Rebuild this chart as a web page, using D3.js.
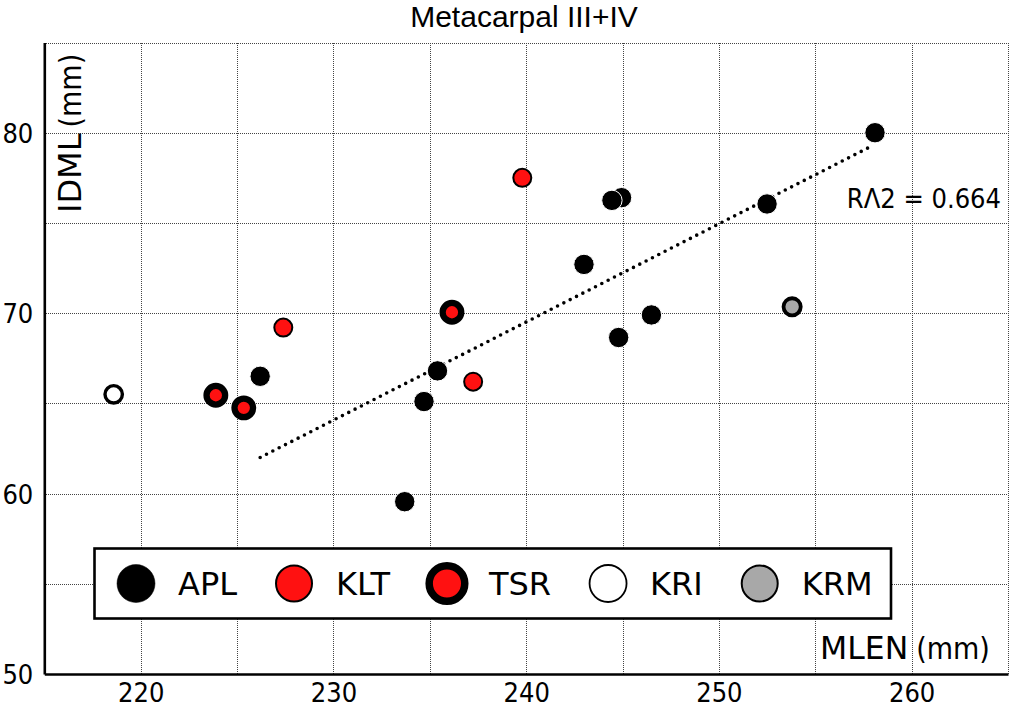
<!DOCTYPE html>
<html>
<head>
<meta charset="utf-8">
<script src="https://cdn.jsdelivr.net/npm/d3@7"></script>
<style>
  html, body { margin: 0; padding: 0; background: #fff; }
  svg { display: block; }
  .cond { font-family: "DejaVu Sans Condensed", "DejaVu Sans", sans-serif; font-stretch: condensed; }
  .dv { font-family: "DejaVu Sans", sans-serif; }
</style>
</head>
<body>
<svg id="chart" width="1012" height="713"></svg>
<script>
// ---------------- data ----------------
const title = "Metacarpal III+IV";
const xLabel = "MLEN";
const yLabel = "IDML";
const unitLabel = "(mm)";
const r2Label = "RΛ2 = 0.664";
const xTicks = [220, 230, 240, 250, 260];
const yTicks = [50, 60, 70, 80];
const xGrid = [220, 225, 230, 235, 240, 245, 250, 255, 260, 265];
const yGrid = [55, 60, 65, 70, 75, 80, 85];
const groups = ["APL", "KLT", "TSR", "KRI", "KRM"];

const aplMLEN = [258.1, 252.5, 244.95, 244.45, 243.0, 246.5, 244.8, 235.4, 234.7, 226.2, 233.7];
const aplIDML = [80.0, 76.05, 76.4, 76.25, 72.7, 69.9, 68.65, 66.8, 65.1, 66.5, 59.55];
const kltMLEN = [239.8, 227.4, 237.25];
const kltIDML = [77.5, 69.2, 66.2];
const tsrMLEN = [223.9, 225.35, 236.15];
const tsrIDML = [65.45, 64.75, 70.05];
const kriMLEN = [218.6];
const kriIDML = [65.5];
const krmMLEN = [253.8];
const krmIDML = [70.35];
// fitted regression line (end points)
const fitMLEN = [226.2, 258.0];
const fitIDML = [62.0, 79.3];

// ---------------- layout ----------------
const W = 1012, H = 713;
const pL = 44.3, pR = 1008, pT = 42.5, pB = 674;
const x = d3.scaleLinear().domain([215, 265]).range([pL, pR]);
const y = d3.scaleLinear().domain([50, 85]).range([pB, pT]);

const svg = d3.select("#chart");
svg.append("rect").attr("width", W).attr("height", H).attr("fill", "#fff");

// grid
const grid = svg.append("g").attr("stroke", "#444").attr("stroke-width", 1)
  .attr("stroke-dasharray", "1,1").attr("shape-rendering", "crispEdges");
grid.selectAll("line.v").data(xGrid).join("line").attr("class", "v")
  .attr("x1", d => Math.round(x(d)) + 0.5).attr("x2", d => Math.round(x(d)) + 0.5)
  .attr("y1", pT).attr("y2", pB);
grid.selectAll("line.h").data(yGrid).join("line").attr("class", "h")
  .attr("x1", pL).attr("x2", pR)
  .attr("y1", d => Math.round(y(d)) + 0.5).attr("y2", d => Math.round(y(d)) + 0.5);

// axes
const xAxis = svg.append("g").attr("transform", `translate(0,${pB})`)
  .call(d3.axisBottom(x).tickValues(xTicks).tickSize(0).tickSizeOuter(0).tickPadding(9));
const yAxis = svg.append("g").attr("transform", `translate(${pL},0)`)
  .call(d3.axisLeft(y).tickValues(yTicks).tickSize(0).tickSizeOuter(0).tickPadding(11));
[xAxis, yAxis].forEach(a => {
  a.select(".domain").attr("stroke", "#000").attr("stroke-width", 2.6);
  a.selectAll("text").attr("class", "cond").attr("font-size", 27).attr("fill", "#000");
  a.attr("font-family", null).attr("font-size", null);
});
yAxis.selectAll("text").attr("dy", "0.36em");

// regression line
const fitData = fitMLEN.map((d, i) => [d, fitIDML[i]]);
svg.append("path")
  .attr("d", d3.line().x(d => x(d[0])).y(d => y(d[1]))(fitData))
  .attr("fill", "none").attr("stroke", "#000").attr("stroke-width", 3.6)
  .attr("stroke-linecap", "round").attr("stroke-dasharray", "0,7.1");

// marker styles
const styles = {
  APL: { r: 10.2, fill: "#000", stroke: "#fff", sw: 1 },
  KLT: { r: 9, fill: "#ff1111", stroke: "#000", sw: 2 },
  TSR: { r: 9.3, fill: "#ff1111", stroke: "#000", sw: 6.3 },
  KRI: { r: 8.7, fill: "#fff", stroke: "#000", sw: 3.4 },
  KRM: { r: 8.6, fill: "#a8a8a8", stroke: "#000", sw: 3.8 }
};
const legendStyles = {
  APL: { r: 19, fill: "#000", stroke: "#000", sw: 0.5 },
  KLT: { r: 18, fill: "#ff1111", stroke: "#000", sw: 2 },
  TSR: { r: 17.8, fill: "#ff1111", stroke: "#000", sw: 7.5 },
  KRI: { r: 18.5, fill: "#fff", stroke: "#000", sw: 1.8 },
  KRM: { r: 18, fill: "#a8a8a8", stroke: "#000", sw: 2 }
};
const seriesX = { APL: aplMLEN, KLT: kltMLEN, TSR: tsrMLEN, KRI: kriMLEN, KRM: krmMLEN };
const seriesY = { APL: aplIDML, KLT: kltIDML, TSR: tsrIDML, KRI: kriIDML, KRM: krmIDML };

const drawOrder = ["KRI", "KRM", "KLT", "APL", "TSR"];
drawOrder.forEach(g => {
  const pts = seriesX[g].map((d, i) => [d, seriesY[g][i]]);
  const s = styles[g];
  svg.append("g").selectAll("circle").data(pts).join("circle")
    .attr("cx", d => x(d[0])).attr("cy", d => y(d[1])).attr("r", s.r)
    .attr("fill", s.fill).attr("stroke", s.stroke).attr("stroke-width", s.sw);
});

// title
svg.append("text").attr("x", 524).attr("y", 27).attr("text-anchor", "middle")
  .attr("font-family", "'Liberation Sans', Arial, sans-serif").attr("font-size", 30)
  .attr("fill", "#000").text(title);

// y label
const yl = svg.append("text").attr("transform", "translate(81,213) rotate(-90)")
  .attr("fill", "#000");
yl.append("tspan").attr("class", "dv").attr("font-size", 32).text(yLabel);
yl.append("tspan").attr("class", "cond").attr("font-size", 30).attr("dx", 6).text(unitLabel);

// x label
const xl = svg.append("text").attr("x", 820).attr("y", 659).attr("fill", "#000");
xl.append("tspan").attr("class", "dv").attr("font-size", 31.5).text(xLabel);
xl.append("tspan").attr("class", "cond").attr("font-size", 30).attr("dx", 8).text(unitLabel);

// R^2
svg.append("text").attr("class", "cond").attr("x", 1001).attr("y", 208)
  .attr("text-anchor", "end").attr("font-size", 27).attr("fill", "#000").text(r2Label);

// legend
const lg = svg.append("g");
lg.append("rect").attr("x", 94.5).attr("y", 548.5).attr("width", 796.5).attr("height", 70)
  .attr("fill", "#fff").attr("stroke", "#000").attr("stroke-width", 2.6);
let cx = 136;
const ly = 583.5;
groups.forEach(g => {
  const s = legendStyles[g];
  lg.append("circle").attr("cx", cx).attr("cy", ly).attr("r", s.r)
    .attr("fill", s.fill).attr("stroke", s.stroke).attr("stroke-width", s.sw);
  const t = lg.append("text").attr("class", "dv").attr("x", cx + 42).attr("y", ly + 11.5)
    .attr("font-size", 32).attr("fill", "#000").text(g);
  const w = t.node().getComputedTextLength();
  cx = cx + 42 + w + 57;
});
</script>
</body>
</html>
